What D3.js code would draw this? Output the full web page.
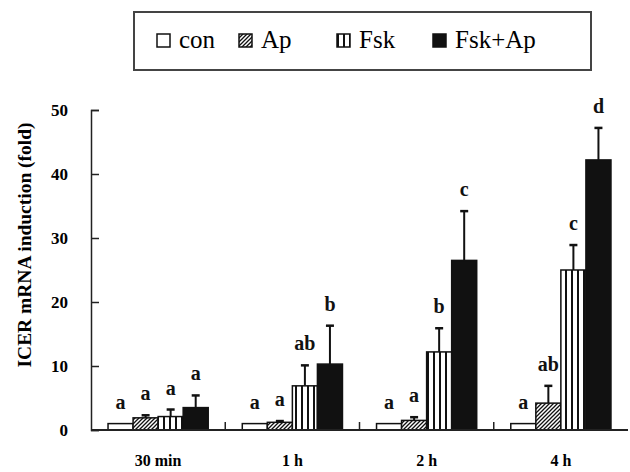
<!doctype html>
<html lang='en'>
<head>
<meta charset='UTF-8'>
<title>ICER mRNA</title>
<style>
  body { margin: 0; background: #fff; }
  text { font-family: 'Liberation Serif', 'Times New Roman', serif; }
  .tick-label { font-size: 17px; font-weight: bold; }
  .sig { font-size: 20px; font-weight: bold; }
</style>
</head>
<body>
<script src='https://d3js.org/d3.v7.min.js'></script>
<script>
  const categories = ['30 min', '1 h', '2 h', '4 h']
  const series = ['con', 'Ap', 'Fsk', 'Fsk+Ap']
  // mean fold induction per series, one value per category
  const con = [1.0, 1.0, 1.0, 1.0]
  const ap = [1.9, 1.2, 1.5, 4.2]
  const fsk = [2.1, 6.9, 12.2, 25.0]
  const fskAp = [3.5, 10.3, 26.5, 42.2]
  // upper error (SD)
  const conErr = [0, 0, 0, 0]
  const apErr = [0.4, 0.2, 0.5, 2.7]
  const fskErr = [1.1, 3.2, 3.7, 3.9]
  const fskApErr = [1.9, 6.0, 7.7, 5.0]
  // significance letters
  const conSig = ['a', 'a', 'a', 'a']
  const apSig = ['a', 'a', 'a', 'ab']
  const fskSig = ['a', 'ab', 'b', 'c']
  const fskApSig = ['a', 'b', 'c', 'd']
  const yTicks = [0, 10, 20, 30, 40, 50]

  const values = [con, ap, fsk, fskAp]
  const errs = [conErr, apErr, fskErr, fskApErr]
  const sigs = [conSig, apSig, fskSig, fskApSig]

  const W = 630, H = 472
  const margin = {top: 110, right: 2, bottom: 42, left: 91}
  const w = W - margin.left - margin.right,
    h = H - margin.top - margin.bottom

  const svg = d3.select('body').append('svg')
    .attr('width', W)
    .attr('height', H)

  const defs = svg.append('defs')
  const diag = defs.append('pattern')
    .attr('id', 'diag')
    .attr('patternUnits', 'userSpaceOnUse')
    .attr('width', 4).attr('height', 4)
  diag.append('rect').attr('width', 4).attr('height', 4).attr('fill', '#fff')
  diag.append('path')
    .attr('d', 'M-1,1 l2,-2 M0,4 l4,-4 M3,5 l2,-2')
    .attr('stroke', '#111').attr('stroke-width', 1.3)

  const vert = defs.append('pattern')
    .attr('id', 'vert')
    .attr('patternUnits', 'userSpaceOnUse')
    .attr('width', 6).attr('height', 6)
  vert.append('rect').attr('width', 6).attr('height', 6).attr('fill', '#fff')
  vert.append('rect').attr('x', 0).attr('width', 2).attr('height', 6).attr('fill', '#111')

  const fills = ['#fff', 'url(#diag)', 'url(#vert)', '#111']

  const g = svg.append('g')
    .attr('transform', `translate(${margin.left}, ${margin.top})`)

  const x = d3.scaleBand()
    .domain(categories)
    .range([0, w])

  const xSub = d3.scaleBand()
    .domain(series)
    .range([0, x.bandwidth()])
    .paddingOuter(0.68)

  const y = d3.scaleLinear()
    .domain([0, 50])
    .range([h, 0])

  //// bars ////
  const groups = g.selectAll('g.series')
    .data(series)
    .join('g')
    .attr('class', 'series')

  groups.each(function (s, si) {
    const sel = d3.select(this)
    const rows = categories.map((c, ci) => ({
      c, v: values[si][ci], e: errs[si][ci], sig: sigs[si][ci]
    }))
    const cx = d => x(d.c) + xSub(s) + xSub.bandwidth() / 2

    sel.selectAll('line.err')
      .data(rows.filter(d => d.e > 0))
      .join('line')
      .attr('class', 'err')
      .attr('x1', cx)
      .attr('x2', cx)
      .attr('y1', d => y(d.v))
      .attr('y2', d => y(d.v + d.e))
      .attr('stroke', '#111').attr('stroke-width', 2)

    sel.selectAll('line.cap')
      .data(rows.filter(d => d.e > 0))
      .join('line')
      .attr('class', 'cap')
      .attr('x1', d => cx(d) - 4)
      .attr('x2', d => cx(d) + 4)
      .attr('y1', d => y(d.v + d.e))
      .attr('y2', d => y(d.v + d.e))
      .attr('stroke', '#111').attr('stroke-width', 2.5)

    sel.selectAll('rect')
      .data(rows)
      .join('rect')
      .attr('x', d => x(d.c) + xSub(s))
      .attr('y', d => y(d.v))
      .attr('width', xSub.bandwidth())
      .attr('height', d => y(0) - y(d.v))
      .attr('fill', fills[si])
      .attr('stroke', '#111')
      .attr('stroke-width', 1.5)

    sel.selectAll('text.sig')
      .data(rows)
      .join('text')
      .attr('class', 'sig')
      .attr('x', cx)
      .attr('y', d => y(d.v + d.e) - 15)
      .attr('text-anchor', 'middle')
      .attr('fill', '#111')
      .text(d => d.sig)
  })

  //// axes ////
  g.append('line')
    .attr('x1', 0).attr('x2', w)
    .attr('y1', h).attr('y2', h)
    .attr('stroke', '#222').attr('stroke-width', 2)

  g.selectAll('line.xtick')
    .data(categories.slice(1))
    .join('line')
    .attr('class', 'xtick')
    .attr('x1', d => x(d)).attr('x2', d => x(d))
    .attr('y1', h).attr('y2', h - 8)
    .attr('stroke', '#222').attr('stroke-width', 1.5)

  g.selectAll('text.xlab')
    .data(categories)
    .join('text')
    .attr('class', 'tick-label')
    .attr('x', d => x(d) + x.bandwidth() / 2)
    .attr('y', h + 36)
    .attr('text-anchor', 'middle')
    .style('font-size', '16px')
    .text(d => d)

  g.append('g')
    .call(d3.axisRight(y)
      .tickValues(yTicks)
      .tickSizeInner(8)
      .tickSizeOuter(8)
      .tickFormat(''))
    .call(a => a.selectAll('path, line').attr('stroke', '#222').attr('stroke-width', 1.5))

  g.selectAll('text.ylab')
    .data(yTicks)
    .join('text')
    .attr('class', 'tick-label')
    .attr('x', -23)
    .attr('y', d => y(d))
    .attr('dy', '0.35em')
    .attr('text-anchor', 'end')
    .text(d => d)

  svg.append('text')
    .attr('transform', 'translate(31, 245) rotate(-90)')
    .attr('text-anchor', 'middle')
    .attr('font-size', 18)
    .attr('font-weight', 'bold')
    .attr('textLength', 245)
    .attr('lengthAdjust', 'spacingAndGlyphs')
    .text('ICER mRNA induction (fold)')

  //// legend ////
  const legend = svg.append('g')
  legend.append('rect')
    .attr('x', 134).attr('y', 12)
    .attr('width', 457).attr('height', 58)
    .attr('fill', '#fff')
    .attr('stroke', '#444').attr('stroke-width', 2)

  const legendX = [157, 239, 337, 433]
  const item = legend.selectAll('g.item')
    .data(series)
    .join('g')
    .attr('class', 'item')
    .attr('transform', (d, i) => `translate(${legendX[i]}, 34)`)

  item.append('rect')
    .attr('width', 13).attr('height', 13)
    .attr('fill', (d, i) => fills[i])
    .attr('stroke', '#111').attr('stroke-width', 1.5)

  item.append('text')
    .attr('x', 22)
    .attr('y', 14)
    .attr('font-size', 25)
    .text(d => d)
</script>
</body>
</html>
